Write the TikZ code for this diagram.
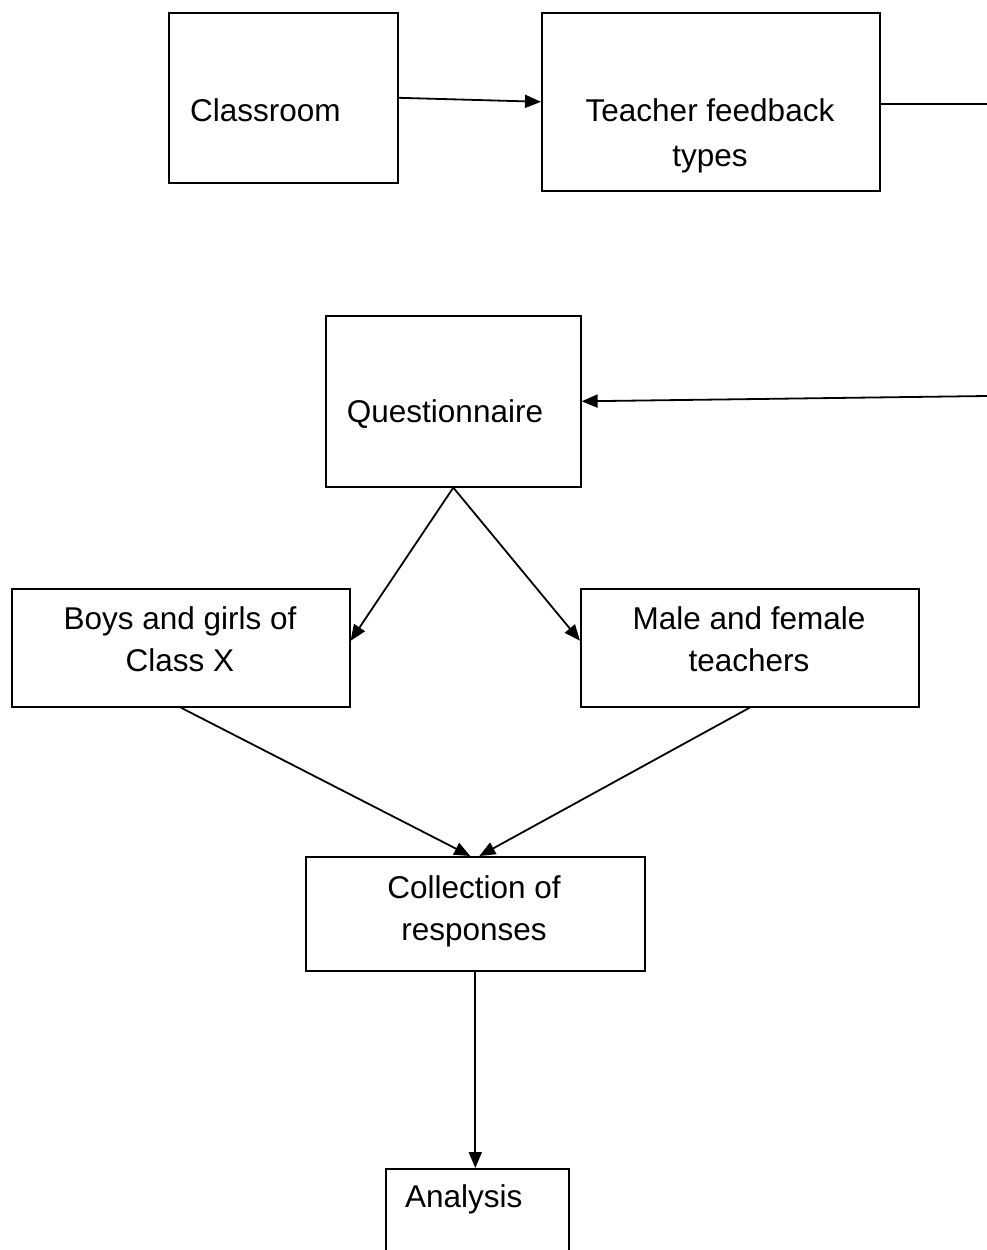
\documentclass[tikz,border=0pt]{standalone}
\usepackage{fontspec}
\setmainfont{Liberation Sans}
\usetikzlibrary{arrows.meta,calc}
\begin{document}
\begin{tikzpicture}[x=1pt,y=-1pt,
  box/.style={draw,line width=1.6pt,inner sep=0pt,anchor=north west},
  lbl/.style={font=\fontsize{31.5}{42}\selectfont,align=center,inner sep=0pt},
  conn/.style={line width=1.8pt,-{Triangle[length=16pt,width=13pt]}},
  plain/.style={line width=1.8pt}]
\useasboundingbox (0,0) rectangle (987,1250);
\clip (0,0) rectangle (987,1250);
% boxes
\node[box,minimum width=229pt,minimum height=170pt] (cls) at (168,12) {};
\node[box,minimum width=338pt,minimum height=178pt] (tf) at (541,12) {};
\node[box,minimum width=255pt,minimum height=171pt] (q) at (325,315) {};
\node[box,minimum width=338pt,minimum height=118pt] (boys) at (11,588) {};
\node[box,minimum width=338pt,minimum height=118pt] (male) at (580,588) {};
\node[box,minimum width=339pt,minimum height=114pt] (coll) at (305,856) {};
\node[box,minimum width=183pt,minimum height=120pt] (ana) at (385,1168) {};
% texts
\node[lbl,anchor=west] (tcls) at (190,110) {Classroom};
\node[lbl,anchor=base] (ttf1) at (710,121) {Teacher feedback};
\node[lbl,anchor=base] (ttf2) at (710,166) {types};
\node[lbl] (tq) at (445,414) {Questionnaire};
\node[lbl] (tboys) at (180,639) {Boys and girls of\\Class X};
\node[lbl] (tmale) at (749,639) {Male and female\\teachers};
\node[lbl] (tcoll) at (474,911) {Collection of\\responses};
\node[lbl,anchor=west] (tana) at (405,1199) {Analysis};
% free ends
\coordinate (r1) at (987,104);
\coordinate (r2) at (987,396);
% connectors
\draw[conn] (cls.east) -- (tf.west);
\draw[plain] (tf.east |- r1) -- (r1);
\draw[conn] (r2) -- (q.east);
\draw[conn] (q.south) -- ($(boys.east)+(0,-7)$);
\draw[conn] (q.south) -- ($(male.west)+(0,-7)$);
\draw[conn] (boys.south) -- ($(coll.north)+(-5,0)$);
\draw[conn] (male.south) -- ($(coll.north)+(4,0)$);
\draw[conn] (coll.south) -- (coll.south |- ana.north);
\end{tikzpicture}
\end{document}
